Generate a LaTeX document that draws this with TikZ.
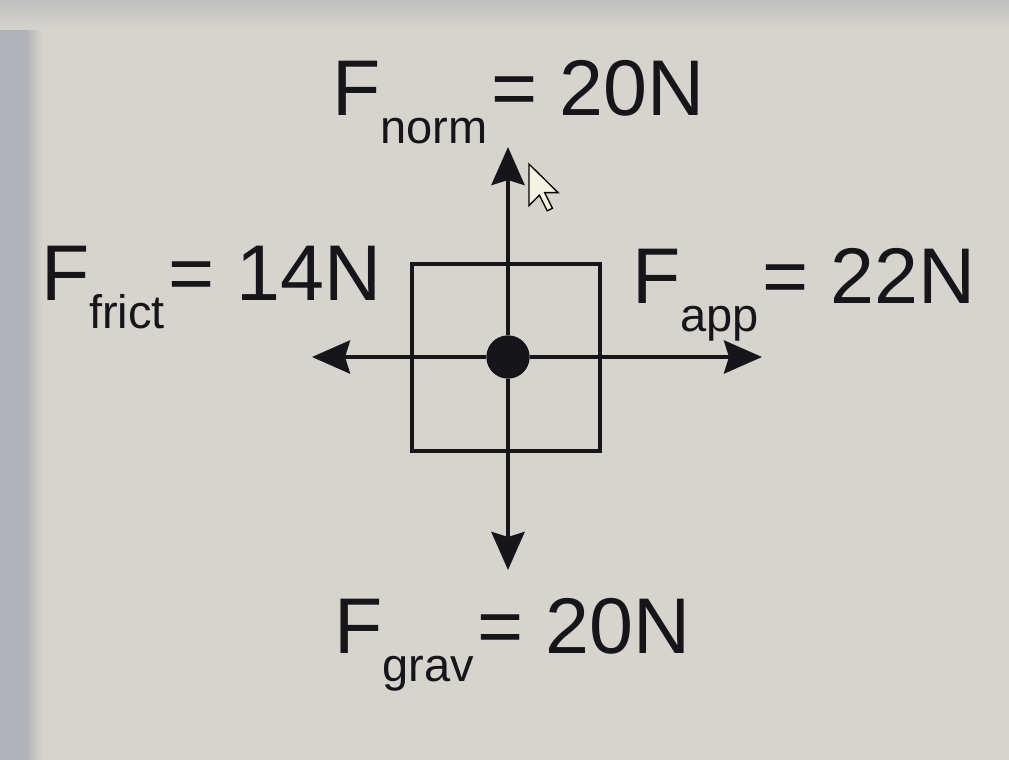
\documentclass[tikz,border=0pt]{standalone}
\usepackage{fontspec}
\setmainfont{Liberation Sans}
\usetikzlibrary{arrows.meta}
\definecolor{bgmain}{RGB}{214,212,205}
\definecolor{bgleft}{RGB}{178,179,184}
\definecolor{bgtop}{RGB}{192,192,192}
\definecolor{ink}{RGB}{22,22,26}
\definecolor{cursorfill}{RGB}{246,242,226}
\newcommand{\forcelabel}[2]{F\raisebox{-28pt}{\fontsize{47}{47}\selectfont #1}\hspace{4pt}= #2}
\tikzset{
  lbl/.style={inner sep=0pt, outer sep=0pt, text=ink, anchor=base west,
              font=\fontsize{79}{80}\selectfont},
  force/.style={draw=ink, line width=4.3pt,
                -{Stealth[length=38pt, width=33pt, inset=5pt]}},
  bodybox/.style={draw=ink, line width=4.3pt, inner sep=0pt,
                  minimum width=188pt, minimum height=187pt},
  dot/.style={circle, fill=ink, inner sep=0pt, minimum size=43pt},
}
\begin{document}
\begin{tikzpicture}[x=1pt,y=-1pt]
  % background (photographed screen)
  \fill[bgmain] (0,0) rectangle (1009,760);
  \fill[bgleft] (0,0) rectangle (26,760);
  \shade[left color=bgleft, right color=bgmain] (26,0) rectangle (42,760);
  \shade[top color=bgtop, bottom color=bgmain] (0,0) rectangle (1009,30);
  \useasboundingbox (0,0) rectangle (1009,760);

  % body and centre of mass
  \node[bodybox] (box) at (506,357.5) {};
  \node[dot] (c) at (508,357) {};

  % arrow ends
  \coordinate (up) at (508,147);
  \coordinate (down) at (508,570);
  \coordinate (left) at (312,357);
  \coordinate (right) at (762,357);

  \draw[force] (c) -- (up);
  \draw[force] (c) -- (down);
  \draw[force] (c) -- (left);
  \draw[force] (c) -- (right);
  \node[dot] at (c) {};

  % labels
  \node[lbl] (norm)  at (332,115) {\forcelabel{norm}{20N}};
  \node[lbl] (frict) at (41,300)  {\forcelabel{frict}{14N}};
  \node[lbl] (app)   at (632,303) {\forcelabel{app}{22N}};
  \node[lbl] (grav)  at (334,653) {\forcelabel{grav}{20N}};

  % mouse pointer
  \filldraw[fill=cursorfill, draw=black, line width=1.3pt, line join=miter]
    (529,164) -- ++(0,41.6) -- ++(10.4,-10.4) -- ++(7.8,15.6)
    -- ++(5.2,-2.6) -- ++(-7.8,-15.6) -- ++(13.4,0) -- cycle;
\end{tikzpicture}
\end{document}
